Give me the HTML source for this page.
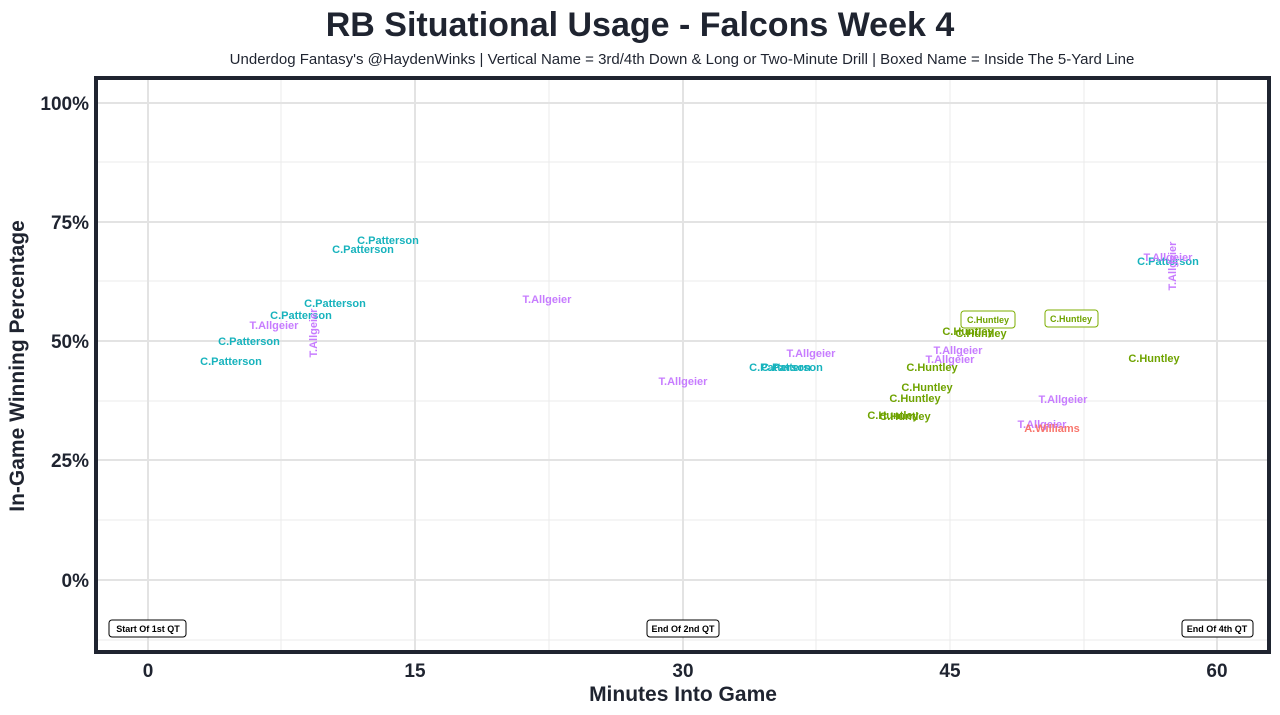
<!DOCTYPE html>
<html><head><style>body{margin:0;background:#fff;}svg{display:block}</style></head><body>
<svg width="1280" height="715" xmlns="http://www.w3.org/2000/svg" font-family="Liberation Sans, sans-serif">
<rect width="1280" height="715" fill="#fff"/>
<text x="640" y="36" text-anchor="middle" font-size="34" font-weight="bold" fill="#1f2430">RB Situational Usage - Falcons Week 4</text>
<text x="682" y="64" text-anchor="middle" font-size="15" fill="#1f2430">Underdog Fantasy's @HaydenWinks | Vertical Name = 3rd/4th Down &amp; Long or Two-Minute Drill | Boxed Name = Inside The 5-Yard Line</text>
<g stroke="#ebebeb" stroke-width="1">
<line x1="281" y1="79" x2="281" y2="650"/><line x1="549" y1="79" x2="549" y2="650"/><line x1="816" y1="79" x2="816" y2="650"/><line x1="950" y1="79" x2="950" y2="650"/><line x1="1084" y1="79" x2="1084" y2="650"/>
<line x1="97" y1="162" x2="1268" y2="162"/><line x1="97" y1="281" x2="1268" y2="281"/><line x1="97" y1="401" x2="1268" y2="401"/><line x1="97" y1="520" x2="1268" y2="520"/><line x1="97" y1="640" x2="1268" y2="640"/>
</g>
<g stroke="#e3e3e3" stroke-width="2">
<line x1="148" y1="79" x2="148" y2="650"/><line x1="415" y1="79" x2="415" y2="650"/><line x1="683" y1="79" x2="683" y2="650"/><line x1="1217" y1="79" x2="1217" y2="650"/>
<line x1="97" y1="103" x2="1268" y2="103"/><line x1="97" y1="222" x2="1268" y2="222"/><line x1="97" y1="341" x2="1268" y2="341"/><line x1="97" y1="460" x2="1268" y2="460"/><line x1="97" y1="580" x2="1268" y2="580"/>
</g>
<rect x="96" y="78" width="1173" height="574" fill="none" stroke="#1f2430" stroke-width="4"/>
<g font-size="19" font-weight="bold" fill="#1f2430" text-anchor="end">
<text x="89" y="110">100%</text><text x="89" y="229">75%</text><text x="89" y="348">50%</text><text x="89" y="467">25%</text><text x="89" y="587">0%</text>
</g>
<g font-size="19" font-weight="bold" fill="#1f2430" text-anchor="middle">
<text x="148" y="677">0</text><text x="415" y="677">15</text><text x="683" y="677">30</text><text x="1217" y="677">60</text><text x="950" y="677">45</text>
<text x="683" y="701" font-size="21">Minutes Into Game</text>
<text transform="translate(24,366) rotate(-90)" font-size="21">In-Game Winning Percentage</text>
</g>
<g font-size="11" font-weight="bold" text-anchor="middle">
<g fill="#17b3bd">
<text x="388" y="244">C.Patterson</text><text x="363" y="253">C.Patterson</text><text x="335" y="307">C.Patterson</text><text x="301" y="319">C.Patterson</text><text x="249" y="345">C.Patterson</text><text x="231" y="365">C.Patterson</text>
<text x="780" y="371">C.Patterson</text><text x="792" y="371">C.Patterson</text><text x="1168" y="265">C.Patterson</text>
</g>
<g fill="#c77cff">
<text x="274" y="329">T.Allgeier</text><text transform="translate(317,333) rotate(-90)">T.Allgeier</text>
<text x="547" y="303">T.Allgeier</text><text x="683" y="385">T.Allgeier</text><text x="811" y="357">T.Allgeier</text>
<text x="958" y="354">T.Allgeier</text><text x="950" y="363">T.Allgeier</text><text x="1063" y="403">T.Allgeier</text><text x="1042" y="428">T.Allgeier</text>
<text x="1168" y="261">T.Allgeier</text><text transform="translate(1176,266) rotate(-90)">T.Allgeier</text>
</g>
<g fill="#6fa300">
<text x="968" y="335">C.Huntley</text><text x="981" y="337">C.Huntley</text><text x="932" y="371">C.Huntley</text><text x="927" y="391">C.Huntley</text><text x="915" y="402">C.Huntley</text><text x="893" y="419">C.Huntley</text><text x="905" y="420">C.Huntley</text><text x="1154" y="362">C.Huntley</text>
</g>
<text x="1052" y="432" fill="#f8766d">A.Williams</text>
</g>
<g font-size="9" font-weight="bold" fill="#6fa300" text-anchor="middle">
<rect x="961" y="311" width="54" height="17" rx="3" fill="#fff" stroke="#7cae00"/><text x="988" y="323">C.Huntley</text>
<rect x="1045" y="310" width="53" height="17" rx="3" fill="#fff" stroke="#7cae00"/><text x="1071" y="322">C.Huntley</text>
</g>
<g font-size="9" font-weight="bold" fill="#000" text-anchor="middle">
<rect x="109" y="620" width="77" height="17" rx="3" fill="#fff" stroke="#000"/><text x="148" y="632">Start Of 1st QT</text>
<rect x="647" y="620" width="72" height="17" rx="3" fill="#fff" stroke="#000"/><text x="683" y="632">End Of 2nd QT</text>
<rect x="1182" y="620" width="71" height="17" rx="3" fill="#fff" stroke="#000"/><text x="1217" y="632">End Of 4th QT</text>
</g>
</svg>
</body></html>
